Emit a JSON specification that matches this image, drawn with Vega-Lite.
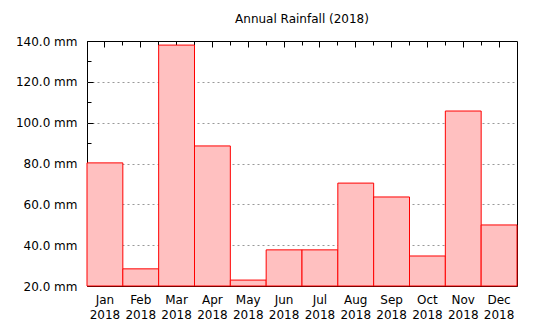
{
  "$schema": "https://vega.github.io/schema/vega-lite/v6.json",
  "width": 430,
  "height": 245,
  "autosize": "none",
  "padding": {"left": 87, "top": 41, "right": 23, "bottom": 44},
  "background": "white",
  "title": {"text": "Annual Rainfall (2018)", "font": "DejaVu Sans", "fontSize": 12, "fontWeight": "normal", "color": "black", "anchor": "middle", "offset": 9},
  "config": {
    "view": {"stroke": "black", "strokeWidth": 1},
    "axis": {"labelFont": "DejaVu Sans", "labelFontSize": 12, "labelColor": "black", "tickColor": "black", "domain": false, "title": null}
  },
  "data": {"values": [
    {"month": "Jan", "rain": 80.3},
    {"month": "Feb", "rain": 28.4},
    {"month": "Mar", "rain": 138.0},
    {"month": "Apr", "rain": 88.6},
    {"month": "May", "rain": 22.9},
    {"month": "Jun", "rain": 37.7},
    {"month": "Jul", "rain": 37.7},
    {"month": "Aug", "rain": 70.4},
    {"month": "Sep", "rain": 63.6},
    {"month": "Oct", "rain": 34.7},
    {"month": "Nov", "rain": 105.7},
    {"month": "Dec", "rain": 49.9}
  ]},
  "layer": [
    {
      "mark": {"type": "bar", "fill": "#ffc0c0", "stroke": "red", "strokeWidth": 1, "opacity": 1},
      "encoding": {
        "x": {"field": "month", "type": "ordinal", "sort": null,
          "scale": {"paddingInner": 0, "paddingOuter": 0},
          "axis": {"orient": "bottom", "ticks": false, "labelAngle": 0, "labelPadding": 8, "labelLineHeight": 15, "labelExpr": "[datum.label, '2018']", "grid": false}},
        "y": {"field": "rain", "type": "quantitative",
          "scale": {"domain": [20, 140], "nice": false, "zero": false},
          "axis": {"values": [20, 30, 40, 50, 60, 70, 80, 90, 100, 110, 120, 130, 140],
            "labelExpr": "datum.value % 20 == 0 ? format(datum.value, '.1f') + ' mm' : ''",
            "tickSize": {"condition": {"test": "datum.value % 20 == 0", "value": -6}, "value": -4},
            "labelPadding": 16,
            "grid": true, "gridColor": "#999999", "gridDash": [2, 3],
            "gridOpacity": {"condition": {"test": "datum.value % 20 == 0 && datum.value > 20 && datum.value < 140", "value": 1}, "value": 0}}},
        "y2": {"datum": 20}
      }
    },
    {
      "mark": {"type": "bar", "opacity": 0},
      "encoding": {
        "x": {"field": "month", "type": "ordinal", "sort": null,
          "axis": {"orient": "top", "labels": false, "ticks": true, "tickSize": -6, "grid": false}}
      }
    },
    {
      "mark": {"type": "bar", "opacity": 0},
      "encoding": {
        "x": {"field": "month", "type": "ordinal", "sort": null,
          "axis": {"orient": "top", "labels": false, "ticks": true, "tickSize": -4, "bandPosition": 0, "grid": false, "offset": 0}}
      }
    }
  ],
  "resolve": {"axis": {"x": "independent"}}
}
